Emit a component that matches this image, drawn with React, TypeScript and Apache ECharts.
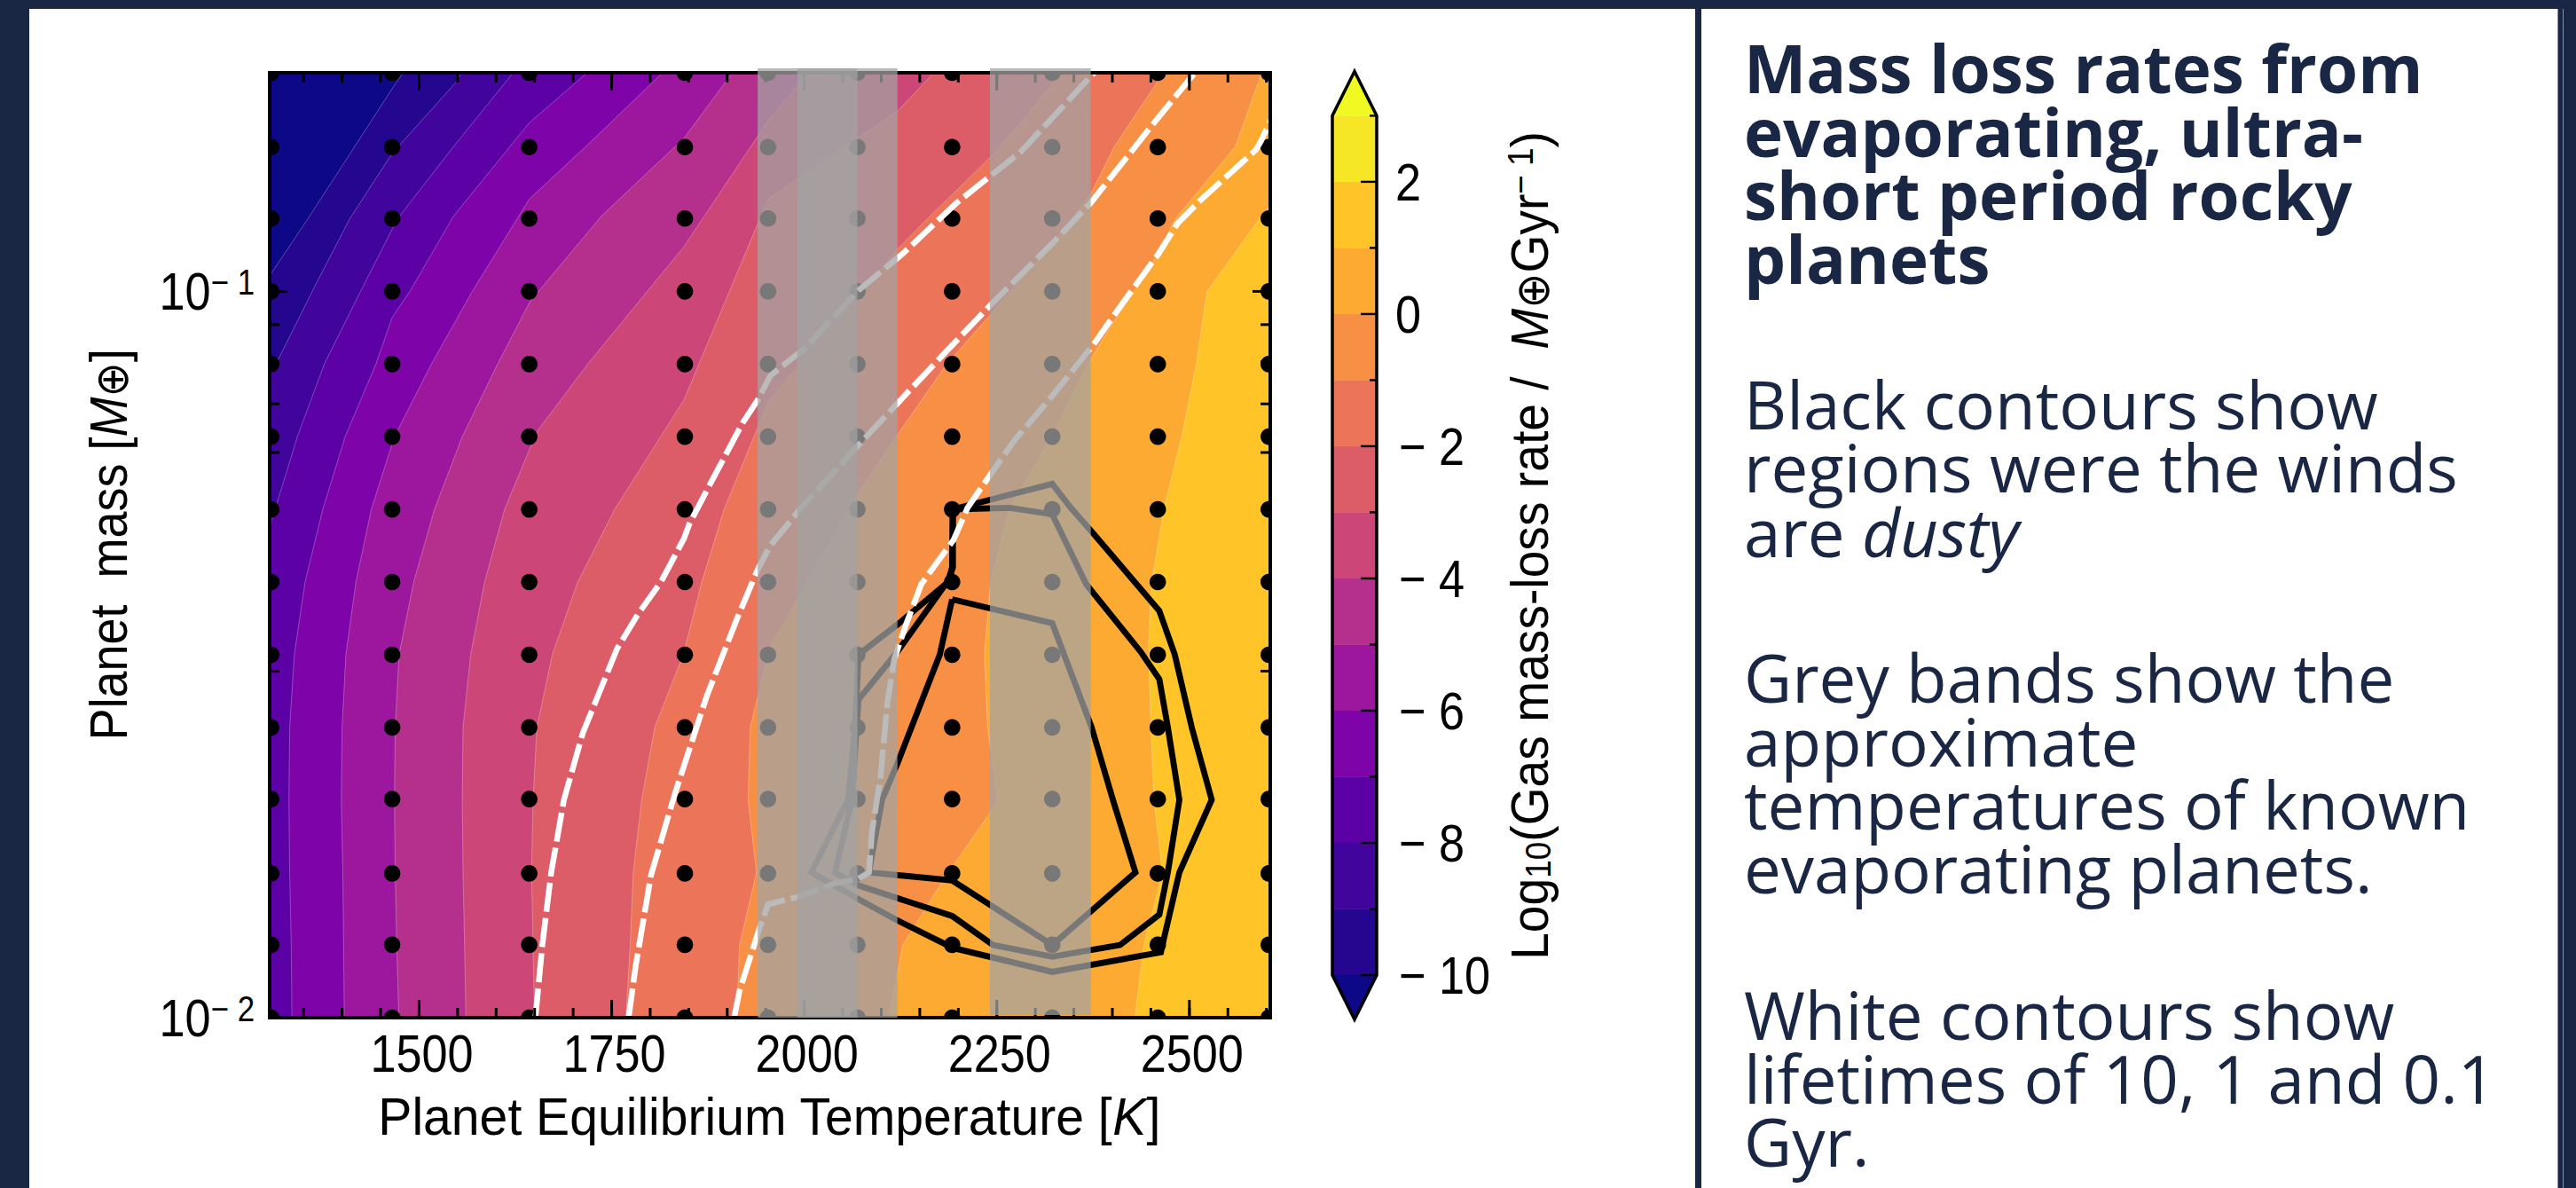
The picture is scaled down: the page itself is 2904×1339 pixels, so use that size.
import React, { useEffect, useRef } from "react";
import * as echarts from "echarts";

// ---------- scales ----------
const tempMin = 1306;
const tempMax = 2605;
const massMin = 0.01;
const massMax = 0.2;
const tempTickLabels = [1500, 1750, 2000, 2250, 2500];
const tempMinorTicks = [1350, 1400, 1450, 1500, 1550, 1600, 1650, 1700, 1750, 1800, 1850, 1900, 1950, 2000, 2050, 2100, 2150, 2200, 2250, 2300, 2350, 2400, 2450, 2500, 2550, 2600];
const massTickLabels = [0.01, 0.1];
const massMajorTicks = [0.1];
const massMinorTicks = [0.02, 0.03, 0.04, 0.05, 0.06, 0.07, 0.08, 0.09, 0.2];
const rateTickLabels = [-10, -8, -6, -4, -2, 0, 2];
const rateMinorTicks = [-9, -7, -5, -3, -1, 1, 3];

// ---------- model grid ----------
const gridTemps = [1308, 1465, 1643, 1845, 1953, 2069, 2192, 2322, 2459, 2603];
const gridMasses = [0.01, 0.0126, 0.0158, 0.02, 0.0251, 0.0316, 0.0398, 0.0501, 0.0631, 0.0794, 0.1, 0.126, 0.158, 0.2];

// ---------- filled contour boundaries [T, log10 M] ----------
const levelM10 = [[1300, -0.988], [1355, -0.901], [1465, -0.721], [1485, -0.69]];
const levelM9 = [[1300, -1.13], [1366, -0.99], [1410, -0.9], [1465, -0.81], [1548, -0.712], [1560, -0.69]];
const levelM8 = [[1300, -1.345], [1313, -1.3], [1342, -1.2], [1377, -1.1], [1424, -1.0], [1472, -0.9], [1543, -0.803], [1629, -0.69]];
const levelM7 = [[1335, -2.01], [1334, -1.9], [1332, -1.8], [1331, -1.7], [1332, -1.6], [1338, -1.5], [1352, -1.4], [1375, -1.3], [1404, -1.2], [1444, -1.1], [1465, -1.036], [1488, -1.0], [1545, -0.896], [1643, -0.768], [1728, -0.69]];
const levelM6 = [[1403, -2.01], [1402, -1.9], [1401, -1.8], [1399, -1.7], [1400, -1.6], [1405, -1.5], [1418, -1.4], [1438, -1.3], [1468, -1.2], [1516, -1.1], [1569, -1.0], [1643, -0.873], [1719, -0.798], [1825, -0.69]];
const levelM5 = [[1474, -2.01], [1471, -1.9], [1469, -1.8], [1468, -1.7], [1469, -1.6], [1474, -1.5], [1493, -1.4], [1520, -1.3], [1556, -1.2], [1602, -1.1], [1644, -1.014], [1737, -0.896], [1844, -0.789], [1913, -0.69]];
const levelM4 = [[1561, -2.01], [1559, -1.9], [1557, -1.8], [1556, -1.7], [1557, -1.6], [1567, -1.5], [1585, -1.4], [1611, -1.3], [1653, -1.193], [1719, -1.1], [1844, -0.938], [1953, -0.765], [2013, -0.69]];
const levelM3 = [[1650, -2.01], [1648, -1.9], [1646, -1.8], [1648, -1.7], [1653, -1.6], [1673, -1.5], [1706, -1.4], [1754, -1.3], [1844, -1.149], [1953, -0.873], [2122, -0.751], [2176, -0.69]];
const levelM2 = [[1768, -2.01], [1774, -1.9], [1778, -1.8], [1789, -1.7], [1806, -1.6], [1843, -1.5], [1867, -1.4], [1896, -1.3], [1953, -1.153], [2122, -0.941], [2159, -0.901], [2243, -0.814], [2284, -0.765], [2340, -0.69]];
const levelM1 = [[1912, -2.01], [1916, -1.9], [1938, -1.8], [1927, -1.7], [1930, -1.6], [1940, -1.557], [1955, -1.492], [1992, -1.422], [2070, -1.278], [2122, -1.196], [2185, -1.1], [2242, -1.032], [2322, -0.934], [2372, -0.866], [2403, -0.8], [2472, -0.69]];
const level0 = [[2108, -2.01], [2128, -1.9], [2179, -1.813], [2243, -1.715], [2251, -1.7], [2238, -1.6], [2234, -1.5], [2242, -1.4], [2267, -1.298], [2322, -1.2], [2372, -1.093], [2397, -1.05], [2460, -0.948], [2481, -0.901], [2560, -0.8], [2597, -0.69]];
const level1 = [[2428, -2.01], [2441, -1.9], [2465, -1.8], [2454, -1.7], [2450, -1.6], [2447, -1.483], [2451, -1.4], [2467, -1.3], [2490, -1.2], [2509, -1.1], [2523, -1], [2591, -0.9], [2612, -0.872]];

const belowColor = "#0d0887";
const aboveColor = "#f0f921";
const topBandColor = "#f5e626";
const fillColors = ["#25068f", "#41049d", "#5c01a6", "#7e03a8", "#9c179e", "#b52f8c", "#cc4778", "#dc5c68", "#ec7458", "#f79044", "#fdaa33", "#fec428"];
const fillLevels = [levelM10, levelM9, levelM8, levelM7, levelM6, levelM5, levelM4, levelM3, levelM2, levelM1, level0, level1];
const rateEdges = [-10, -9, -8, -7, -6, -5, -4, -3, -2, -1, 0, 1, 2, 3];

// ---------- lifetime contours (white) ----------
const lifetime10 = [[1651, -2], [1660, -1.9], [1671.5, -1.8], [1688, -1.7], [1712.6, -1.608], [1757, -1.492], [1785, -1.443], [1814, -1.4], [1844, -1.34], [1851, -1.32], [1878, -1.265], [1920, -1.181], [1940, -1.149], [1956, -1.116], [2000, -1.079], [2070, -0.999], [2128, -0.948], [2198, -0.878], [2282, -0.807], [2384, -0.69]];
const lifetime1 = [[1772, -2], [1781, -1.93], [1801, -1.804], [1832, -1.692], [1873.5, -1.557], [1913, -1.45], [1940, -1.382], [1956, -1.35], [2000, -1.293], [2070, -1.212], [2122, -1.153], [2185, -1.082], [2242.5, -1.018], [2322, -0.934], [2372, -0.878], [2454, -0.768], [2514, -0.69]];
const lifetime01 = [[1909, -2], [1916, -1.963], [1940, -1.883], [1953, -1.844], [1991, -1.834], [2037.5, -1.816], [2070, -1.809], [2084, -1.8], [2088, -1.743], [2099, -1.669], [2108, -1.566], [2117, -1.506], [2132, -1.459], [2152, -1.403], [2176, -1.368], [2194, -1.342], [2212, -1.298], [2242.5, -1.251], [2273, -1.205], [2322, -1.144], [2375, -1.074], [2406, -1.027], [2460, -0.948], [2485, -0.906], [2516, -0.873], [2586.5, -0.805], [2593, -0.793], [2612, -0.75]];

// ---------- dusty-wind contours (black) ----------
const dustyInner = [[2192, -1.424], [2322, -1.457], [2373, -1.6], [2401, -1.701], [2430, -1.8], [2322, -1.9], [2192, -1.811], [2084, -1.8], [2101, -1.7], [2121, -1.65], [2176, -1.5], [2192, -1.424]];
const dustyMiddle = [[2192.7, -1.3], [2267, -1.298], [2322, -1.307], [2366, -1.403], [2436.6, -1.496], [2461, -1.534], [2472, -1.6], [2487, -1.7], [2472, -1.8], [2461, -1.858], [2410, -1.9], [2322, -1.916], [2245, -1.9], [2192, -1.86], [2070.5, -1.818], [2040, -1.8], [2062, -1.7], [2068, -1.6], [2070.5, -1.562], [2121, -1.496], [2187, -1.398], [2192, -1.38], [2192.7, -1.3]];
const dustyOuter = [[2193, -1.3], [2322, -1.265], [2346, -1.298], [2375, -1.333], [2461, -1.44], [2481, -1.5], [2503, -1.6], [2529, -1.7], [2487, -1.8], [2465, -1.9], [2463, -1.91], [2322, -1.937], [2193, -1.904], [2119, -1.865], [2070.5, -1.837], [2009, -1.8], [2057, -1.7], [2066, -1.6], [2070.5, -1.5], [2123, -1.457], [2187, -1.4], [2193, -1.38], [2193, -1.3]];

// ---------- grey temperature bands ----------
const bandFrom = [1939.5, 1991, 2241];
const bandTo = [2121, 2069, 2372];

const navy = "#1a2744";
const plainFont = "'Liberation Sans',Arial,sans-serif";
const panelFont = "'Open Sans',sans-serif";
const labelSquash = 0.87;

const titleLines = [
  ["Mass loss rates from", 103],
  ["evaporating, ultra-", 175],
  ["short period rocky", 246],
  ["planets", 318],
];
const bodyLines = [
  ["Black contours show", 482],
  ["regions were the winds", 553],
  ["are {i|dusty}", 626],
  ["Grey bands show the", 790],
  ["approximate", 862],
  ["temperatures of known", 933],
  ["evaporating planets.", 1005],
  ["White contours show", 1170],
  ["lifetimes of 10, 1 and 0.1", 1242],
  ["Gyr.", 1313],
];

const toPoint = (p: number[]) => [p[0], Math.pow(10, p[1])];

function fillSeries(points: number[][], color: string, z: number) {
  const topLog = -0.69;
  const bottomLog = -2.01;
  const closing: number[][] = [];
  const last = points[points.length - 1];
  const first = points[0];
  if (last[1] >= topLog) closing.push([2640, topLog]);
  closing.push([2640, bottomLog]);
  if (first[1] > bottomLog) closing.push([1280, bottomLog]);
  const outline = points.map(toPoint);
  const ring = outline.concat(closing.map(toPoint));
  return {
    type: "custom",
    xAxisIndex: 0,
    yAxisIndex: 0,
    z,
    clip: true,
    silent: true,
    encode: { x: 0, y: 1 },
    data: ring,
    renderItem: (params: any, api: any) => {
      if (params.dataIndex !== 0) return null;
      return {
        type: "group",
        children: [
          { type: "polygon", shape: { points: ring.map((p) => api.coord(p)) }, style: { fill: color, stroke: null } },
          { type: "polyline", shape: { points: outline.map((p) => api.coord(p)) }, style: { fill: null, stroke: "rgba(255,255,255,0.28)", lineWidth: 1 } },
        ],
      };
    },
  };
}

function contourSeries(name: string, points: number[][], color: string, width: number, dash: any, z: number) {
  return {
    type: "line",
    name,
    xAxisIndex: 0,
    yAxisIndex: 0,
    data: points.map(toPoint),
    symbol: "none",
    smooth: false,
    silent: true,
    clip: true,
    z,
    lineStyle: { color, width, type: dash, cap: "butt", join: "miter" },
  };
}

function ticksSeries(values: number[], dim: "x" | "y", len: number, z: number) {
  const yMid = 0.05;
  const xMid = 2000;
  return {
    type: "custom",
    xAxisIndex: 0,
    yAxisIndex: 0,
    z,
    silent: true,
    clip: false,
    encode: { x: 0, y: 1 },
    data: values.map((v) => (dim === "x" ? [v, yMid] : [xMid, v])),
    renderItem: (params: any, api: any) => {
      const cs = params.coordSys;
      const p = api.coord([api.value(0), api.value(1)]);
      const style = { stroke: "#000", lineWidth: 3 };
      const l = (x1: number, y1: number, x2: number, y2: number) => ({ type: "line", shape: { x1, y1, x2, y2 }, style });
      return {
        type: "group",
        children:
          dim === "x"
            ? [l(p[0], cs.y + cs.height, p[0], cs.y + cs.height - len), l(p[0], cs.y, p[0], cs.y + len)]
            : [l(cs.x, p[1], cs.x + len, p[1]), l(cs.x + cs.width, p[1], cs.x + cs.width - len, p[1])],
      };
    },
  };
}

export default function App() {
  const ref = useRef<HTMLDivElement>(null);
  useEffect(() => {
    const chart = echarts.init(ref.current!, undefined, { renderer: "svg" });

    const text = (t: string, x: number, y: number, style: any, extra: any = {}) => ({
      type: "text",
      x,
      y,
      z: 20,
      silent: true,
      ...extra,
      style: { text: t, fill: "#000", ...style },
    });

    const panelRects = [
      { x: 0, y: 0, w: 2904, h: 10, c: navy },
      { x: 0, y: 0, w: 33, h: 1339, c: navy },
      { x: 1911, y: 0, w: 7, h: 1339, c: navy },
      { x: 2883, y: 0, w: 21, h: 1339, c: navy },
      { x: 2883, y: 10, w: 1, h: 1329, c: "#8490a4" },
      { x: 2889, y: 10, w: 1, h: 1329, c: "#8490a4" },
    ];

    const series: any[] = [];
    fillLevels.forEach((pts, i) => series.push(fillSeries(pts, fillColors[i], 1)));
    // model grid dots, clipped to the axes
    series.push({
      type: "custom",
      name: "Model grid",
      xAxisIndex: 0,
      yAxisIndex: 0,
      z: 3,
      clip: true,
      silent: true,
      encode: { x: 0, y: 1 },
      data: gridTemps.flatMap((t) => gridMasses.map((m) => [t, m])),
      renderItem: (params: any, api: any) => {
        const p = api.coord([api.value(0), api.value(1)]);
        return { type: "circle", shape: { cx: p[0], cy: p[1], r: 9.3 }, style: { fill: "#000" } };
      },
    });
    series.push(contourSeries("Dusty inner", dustyInner, "#000", 6.8, "solid", 4));
    series.push(contourSeries("Dusty middle", dustyMiddle, "#000", 6.8, "solid", 4));
    series.push(contourSeries("Dusty outer", dustyOuter, "#000", 6.8, "solid", 4));
    const dash = [33, 7];
    series.push(contourSeries("10 Gyr", lifetime10, "#fff", 6.5, dash, 5));
    series.push(contourSeries("1 Gyr", lifetime1, "#fff", 6.5, dash, 5));
    series.push(contourSeries("0.1 Gyr", lifetime01, "#fff", 6.5, dash, 5));
    series.push(ticksSeries(tempMinorTicks, "x", 11, 6));
    series.push(ticksSeries(tempTickLabels, "x", 20, 6));
    series.push(ticksSeries(massMinorTicks, "y", 11, 6));
    series.push(ticksSeries(massMajorTicks, "y", 20, 6));
    // plot frame
    series.push({
      type: "custom",
      xAxisIndex: 0,
      yAxisIndex: 0,
      z: 6,
      silent: true,
      clip: false,
      encode: { x: 0, y: 1 },
      data: [[2000, 0.05]],
      renderItem: (params: any) => {
        const c = params.coordSys;
        return { type: "rect", shape: { x: c.x, y: c.y, width: c.width, height: c.height }, style: { fill: null, stroke: "#000", lineWidth: 4 } };
      },
    });
    // grey bands
    series.push({
      type: "custom",
      xAxisIndex: 0,
      yAxisIndex: 0,
      z: 7,
      silent: true,
      clip: false,
      encode: { x: [0, 1] },
      data: bandFrom.map((f, i) => [f, bandTo[i]]),
      renderItem: (params: any, api: any) => {
        const c = params.coordSys;
        const a = api.coord([api.value(0), massMin]);
        const b = api.coord([api.value(1), massMin]);
        const bottomGap = params.dataIndex === 2 ? 3 : 0;
        return {
          type: "rect",
          shape: { x: a[0], y: c.y - 5, width: b[0] - a[0], height: c.height + 5 - bottomGap },
          style: { fill: "rgba(163,163,163,0.737)", stroke: null },
        };
      },
    });
    // temperature tick labels
    series.push({
      type: "custom",
      xAxisIndex: 0,
      yAxisIndex: 0,
      z: 8,
      silent: true,
      clip: false,
      encode: { x: 0, y: 1 },
      data: tempTickLabels.map((v) => [v, massMin]),
      renderItem: (params: any, api: any) => {
        const p = api.coord([api.value(0), massMin]);
        return {
          type: "text",
          x: p[0] + 3,
          y: p[1] + 40,
          scaleX: labelSquash,
          style: { text: String(api.value(0)), fontFamily: plainFont, fontSize: 60, fill: "#000", align: "center", verticalAlign: "middle" },
        };
      },
    });
    // mass tick labels
    series.push({
      type: "custom",
      xAxisIndex: 0,
      yAxisIndex: 0,
      z: 8,
      silent: true,
      clip: false,
      encode: { x: 0, y: 1 },
      data: massTickLabels.map((v) => [tempMin, v]),
      renderItem: (params: any, api: any) => {
        const m = api.value(1);
        const p = api.coord([tempMin, m]);
        const exp = Math.round(Math.log10(m));
        return {
          type: "text",
          x: p[0] - 17,
          y: p[1],
          scaleX: labelSquash,
          style: {
            text: "{b|10}{s|− " + Math.abs(exp) + "}",
            align: "right",
            verticalAlign: "middle",
            rich: {
              b: { fontFamily: plainFont, fontSize: 60, fill: "#000", lineHeight: 60, verticalAlign: "middle" },
              s: { fontFamily: plainFont, fontSize: 40, fill: "#000", lineHeight: 60, verticalAlign: "top", padding: [0, 0, 14, 0] },
            },
          },
        };
      },
    });
    // colour bar
    const barColors = fillColors.concat([topBandColor]);
    series.push({
      type: "custom",
      xAxisIndex: 1,
      yAxisIndex: 1,
      z: 3,
      silent: true,
      clip: false,
      encode: { x: 0, y: 1 },
      data: rateEdges.slice(0, -1).map((e, i) => [0, e, rateEdges[i + 1]]),
      renderItem: (params: any, api: any) => {
        const c = params.coordSys;
        const lo = api.coord([0, api.value(1)]);
        const hi = api.coord([0, api.value(2)]);
        return {
          type: "rect",
          shape: { x: c.x, y: hi[1], width: c.width, height: lo[1] - hi[1] },
          style: { fill: barColors[params.dataIndex], stroke: barColors[params.dataIndex], lineWidth: 0.5 },
        };
      },
    });
    series.push({
      type: "custom",
      xAxisIndex: 1,
      yAxisIndex: 1,
      z: 4,
      silent: true,
      clip: false,
      encode: { x: 0, y: 1 },
      data: [[0, rateEdges[0]]],
      renderItem: (params: any, api: any) => {
        const c = params.coordSys;
        const tip = 50;
        const mid = c.x + c.width / 2;
        const top = c.y;
        const bot = c.y + c.height;
        const right = c.x + c.width;
        const lo = api.coord([0, rateEdges[0]]);
        const hi = api.coord([0, rateEdges[rateEdges.length - 1]]);
        return {
          type: "group",
          children: [
            { type: "polygon", shape: { points: [[c.x, hi[1]], [mid, top - tip], [right, hi[1]]] }, style: { fill: aboveColor } },
            { type: "polygon", shape: { points: [[c.x, lo[1]], [mid, bot + tip], [right, lo[1]]] }, style: { fill: belowColor } },
            ...rateMinorTicks.concat(rateTickLabels).map((v) => {
              const p = api.coord([0, v]);
              const len = rateTickLabels.includes(v) ? 18 : 8;
              return { type: "line", shape: { x1: right - len, y1: p[1], x2: right, y2: p[1] }, style: { stroke: "#000", lineWidth: 2.4 } };
            }),
            {
              type: "polygon",
              shape: { points: [[c.x, hi[1]], [mid, top - tip], [right, hi[1]], [right, lo[1]], [mid, bot + tip], [c.x, lo[1]]] },
              style: { fill: null, stroke: "#000", lineWidth: 3.5 },
            },
          ],
        };
      },
    });
    // colour bar tick labels
    series.push({
      type: "custom",
      xAxisIndex: 1,
      yAxisIndex: 1,
      z: 8,
      silent: true,
      clip: false,
      encode: { x: 0, y: 1 },
      data: rateTickLabels.map((v) => [1, v]),
      renderItem: (params: any, api: any) => {
        const v = api.value(1);
        const p = api.coord([1, v]);
        return {
          type: "text",
          x: p[0] + (v < 0 ? 25 : 21),
          y: p[1],
          scaleX: labelSquash,
          style: { text: v < 0 ? "− " + Math.abs(v) : String(v), fontFamily: plainFont, fontSize: 60, fill: "#000", align: "left", verticalAlign: "middle" },
        };
      },
    });

    const option: any = {
      animation: false,
      backgroundColor: "#fff",
      grid: [
        { left: 304, top: 82, width: 1128, height: 1065, show: true, backgroundColor: belowColor, borderWidth: 0, containLabel: false },
        { left: 1502, top: 130.4, width: 50, height: 968.6, show: false, containLabel: false },
      ],
      xAxis: [
        {
          type: "value",
          gridIndex: 0,
          min: tempMin,
          max: tempMax,
          position: "bottom",
          splitLine: { show: false },
          axisLine: { show: false },
          axisTick: { show: false },
          axisLabel: { show: false },
        },
        { type: "value", gridIndex: 1, min: 0, max: 1, show: false },
      ],
      yAxis: [
        {
          type: "log",
          logBase: 10,
          gridIndex: 0,
          min: massMin,
          max: massMax,
          position: "left",
          splitLine: { show: false },
          axisLine: { show: false },
          axisTick: { show: false },
          axisLabel: { show: false },
        },
        {
          type: "value",
          gridIndex: 1,
          min: -10,
          max: 3,
          position: "right",
          splitLine: { show: false },
          axisLine: { show: false },
          axisTick: { show: false },
          axisLabel: { show: false },
        },
      ],
      series,
      graphic: [
        ...panelRects.map((r) => ({ type: "rect", z: 30, silent: true, shape: { x: r.x, y: r.y, width: r.w, height: r.h }, style: { fill: r.c } })),
        text("Planet Equilibrium Temperature [{i|K}]", 867, 1258, {
          fontFamily: plainFont,
          fontSize: 60,
          align: "center",
          verticalAlign: "middle",
          rich: { i: { fontFamily: plainFont, fontSize: 60, fontStyle: "italic" } },
        }, { scaleX: 0.952 }),
        text("Planet  mass [{i|M}{s|⊕}]", 122, 614, {
          fontFamily: plainFont,
          fontSize: 60,
          align: "center",
          verticalAlign: "middle",
          rich: {
            i: { fontFamily: plainFont, fontSize: 60, fontStyle: "italic" },
            s: { fontFamily: "'DejaVu Sans'", fontSize: 52, fontStyle: "italic", verticalAlign: "bottom" },
          },
        }, { rotation: Math.PI / 2, scaleX: 0.9 }),
        text("Log{s|10}(Gas mass-loss rate /  {i|M}{o|⊕}Gyr{u|− 1})", 1724, 615, {
          fontFamily: plainFont,
          fontSize: 60,
          align: "center",
          verticalAlign: "middle",
          rich: {
            s: { fontFamily: plainFont, fontSize: 40, verticalAlign: "bottom" },
            i: { fontFamily: plainFont, fontSize: 60, fontStyle: "italic" },
            o: { fontFamily: "'DejaVu Sans'", fontSize: 52, fontStyle: "italic", verticalAlign: "bottom" },
            u: { fontFamily: plainFont, fontSize: 40, verticalAlign: "top" },
          },
        }, { rotation: Math.PI / 2, scaleX: 0.92 }),
        ...titleLines.map((l) =>
          text(l[0] as string, 1966, (l[1] as number) - 27, { fontFamily: panelFont, fontWeight: 700, fontSize: 74.6, fill: navy, align: "left", verticalAlign: "middle" })
        ),
        ...bodyLines.map((l) =>
          text(l[0] as string, 1966, (l[1] as number) - 27, {
            fontFamily: panelFont,
            fontSize: 74.5,
            fill: navy,
            align: "left",
            verticalAlign: "middle",
            rich: { i: { fontFamily: panelFont, fontSize: 74.5, fontStyle: "italic", fill: navy } },
          })
        ),
      ],
    };
    chart.setOption(option);
    return () => chart.dispose();
  }, []);
  return <div ref={ref} style={{ position: "fixed", left: 0, top: 0, width: 2904, height: 1339 }} />;
}
